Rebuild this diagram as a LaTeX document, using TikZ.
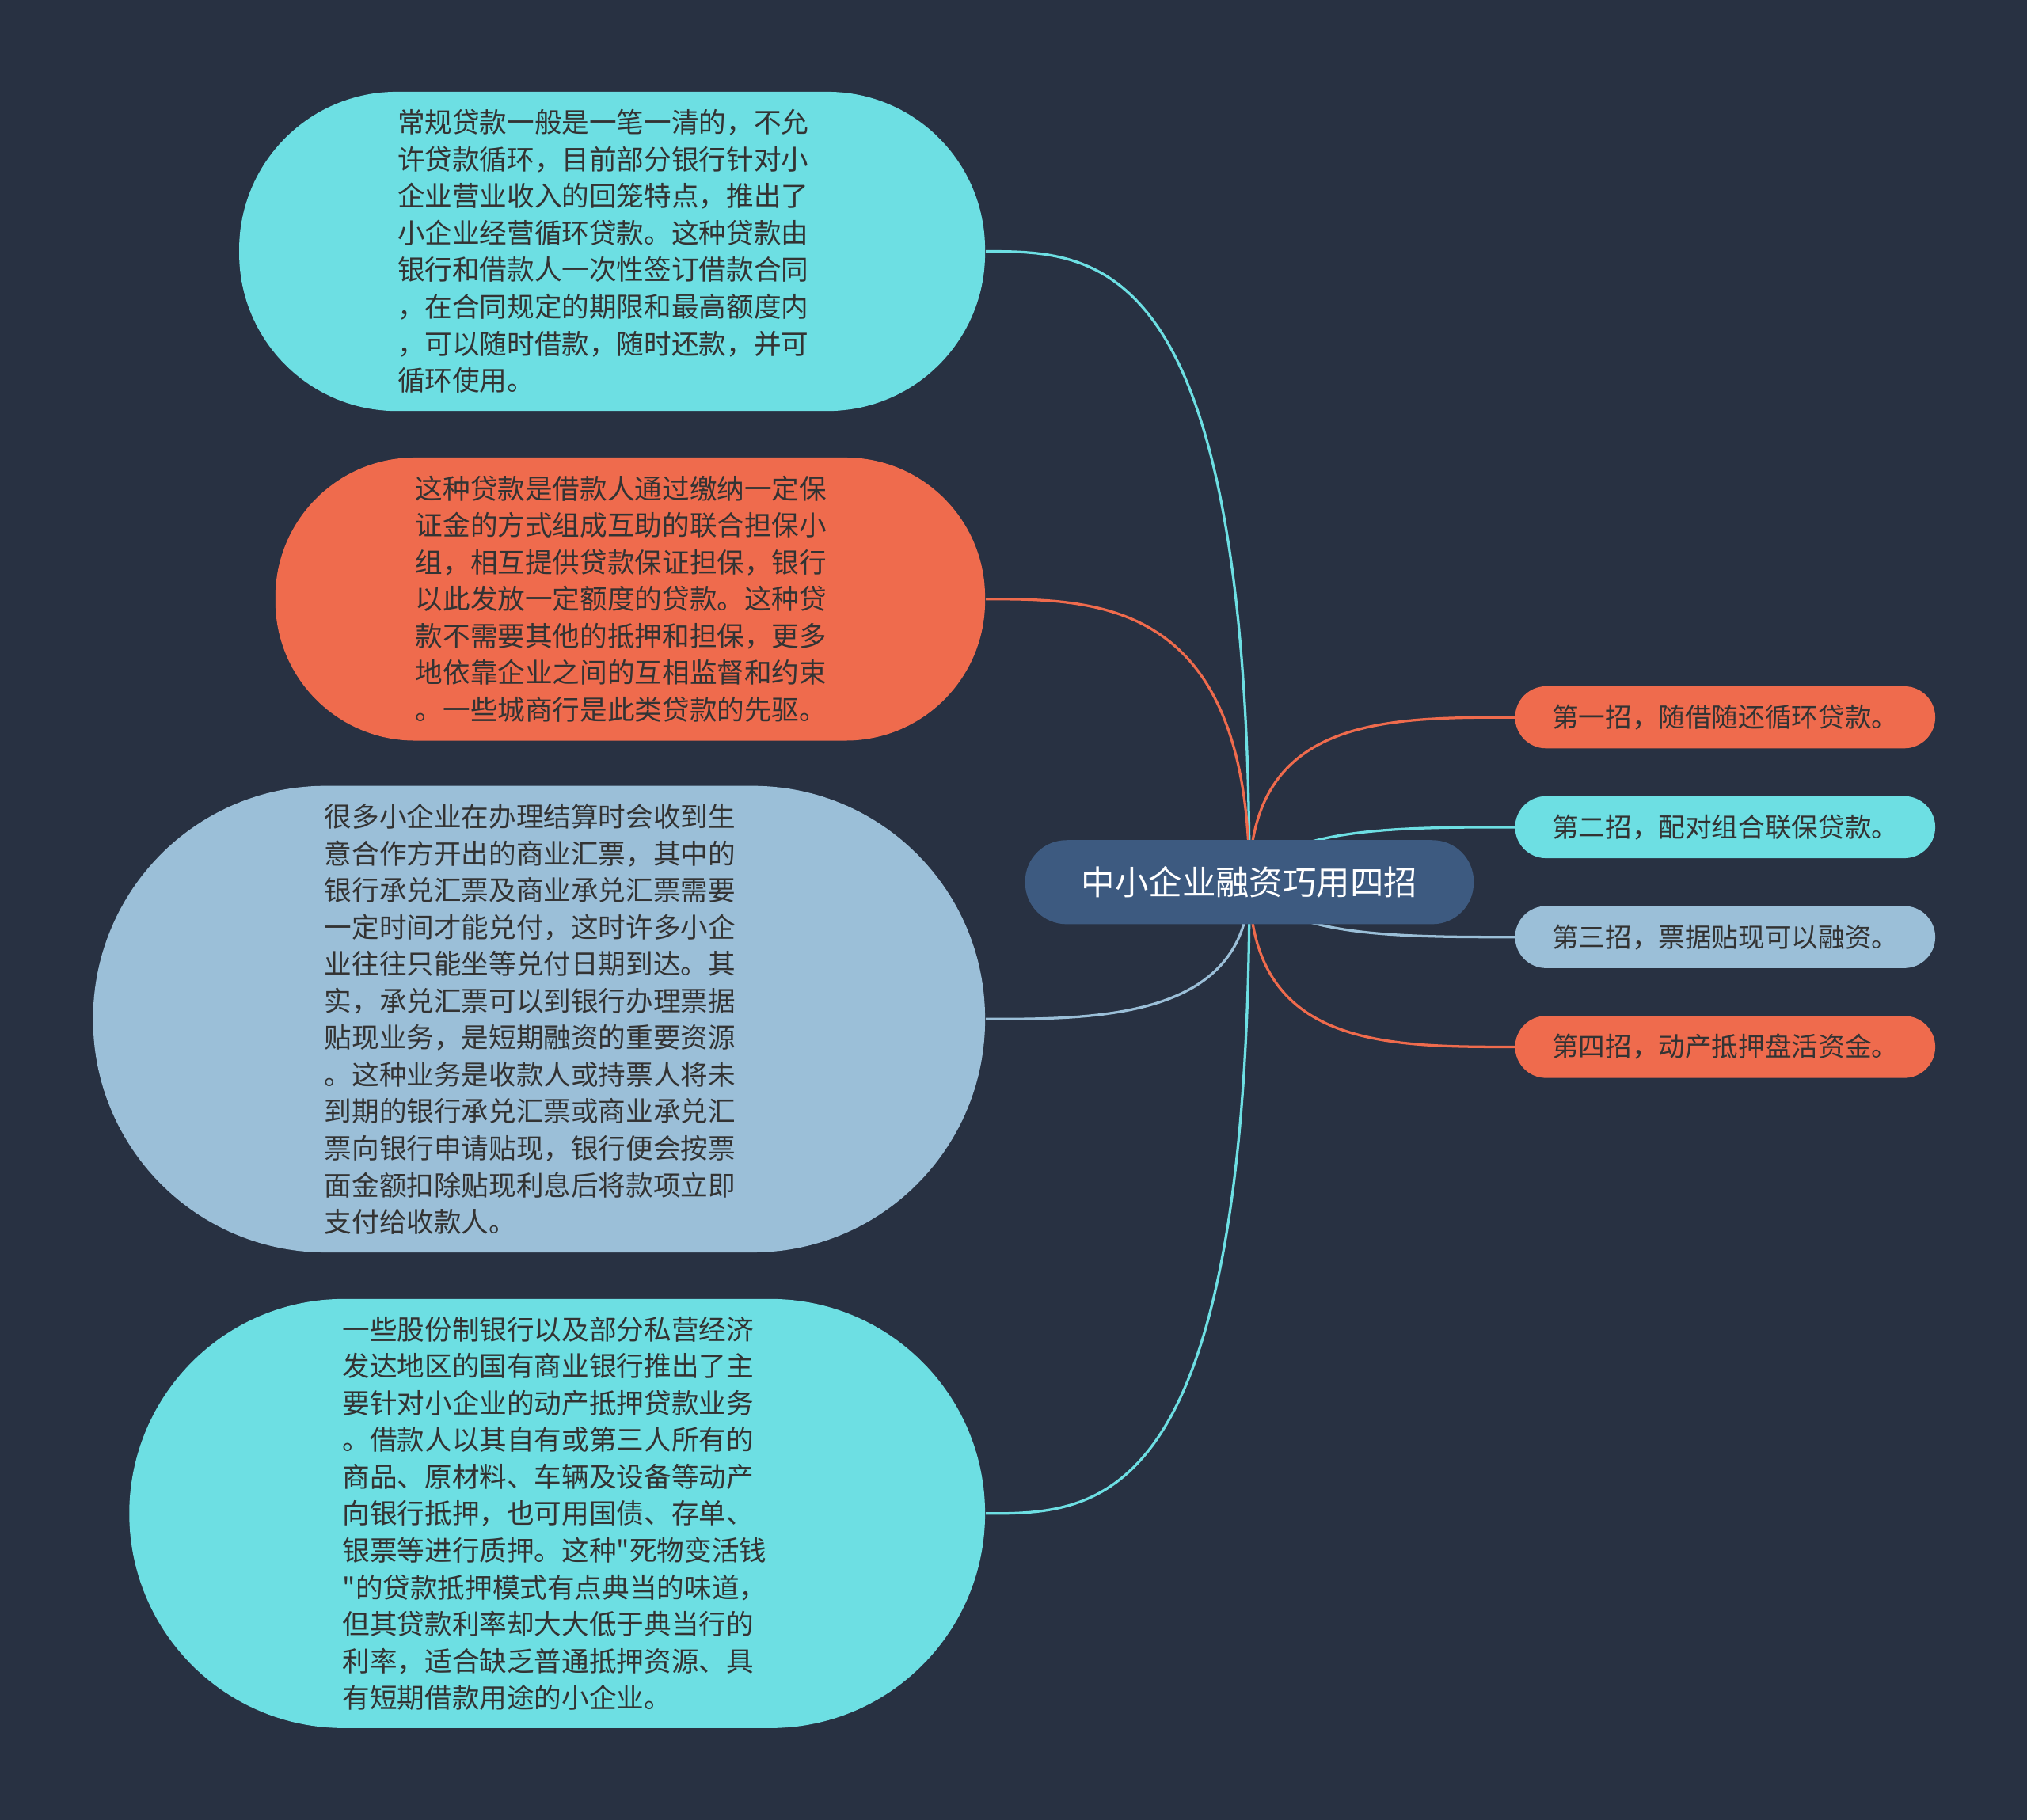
\documentclass[tikz,border=0pt]{standalone}
\usepackage{fontspec}
\setmainfont{Noto Sans CJK SC}[Ligatures=TeXOff]
\usetikzlibrary{backgrounds}
\definecolor{bg}{HTML}{283142}
\definecolor{cy}{HTML}{6DDFE3}
\definecolor{rd}{HTML}{EF6B4D}
\definecolor{lb}{HTML}{9BBFD8}
\definecolor{cb}{HTML}{3D5A80}
\definecolor{tx}{HTML}{333333}
\begin{document}
\begin{tikzpicture}[x=0.5pt,y=-0.5pt,
  leaf/.style={inner sep=0pt,text=tx,font=\fontsize{10.6pt}{14.25pt}\selectfont,align=left,text width=160pt},
  small/.style={inner sep=0pt,minimum width=162.5pt,minimum height=24pt,rounded corners=12pt,text=tx,font=\fontsize{10.3pt}{12pt}\selectfont},
  conn/.style={line width=1pt}]
\useasboundingbox (0,0) rectangle (1568,1408);
\node[leaf,fill=cy,minimum width=288.5pt,minimum height=123.5pt,rounded corners=61pt] (n1) at (473.5,194.5) {\hspace*{-3pt}\parbox{160pt}{常规贷款一般是一笔一清的，不允\\许贷款循环，目前部分银行针对小\\企业营业收入的回笼特点，推出了\\小企业经营循环贷款。这种贷款由\\银行和借款人一次性签订借款合同\\，在合同规定的期限和最高额度内\\，可以随时借款，随时还款，并可\\循环使用。}};
\node[leaf,fill=rd,minimum width=274.5pt,minimum height=109.5pt,rounded corners=54pt] (n2) at (487.5,463.5) {\hspace*{-3pt}\parbox{160pt}{这种贷款是借款人通过缴纳一定保\\证金的方式组成互助的联合担保小\\组，相互提供贷款保证担保，银行\\以此发放一定额度的贷款。这种贷\\款不需要其他的抵押和担保，更多\\地依靠企业之间的互相监督和约束\\。一些城商行是此类贷款的先驱。}};
\node[leaf,fill=lb,minimum width=345pt,minimum height=180.5pt,rounded corners=90pt] (n3) at (417,788.5) {\hspace*{-3pt}\parbox{160pt}{很多小企业在办理结算时会收到生\\意合作方开出的商业汇票，其中的\\银行承兑汇票及商业承兑汇票需要\\一定时间才能兑付，这时许多小企\\业往往只能坐等兑付日期到达。其\\实，承兑汇票可以到银行办理票据\\贴现业务，是短期融资的重要资源\\。这种业务是收款人或持票人将未\\到期的银行承兑汇票或商业承兑汇\\票向银行申请贴现，银行便会按票\\面金额扣除贴现利息后将款项立即\\支付给收款人。}};
\node[leaf,fill=cy,minimum width=331pt,minimum height=166pt,rounded corners=83pt] (n4) at (431,1171) {\hspace*{-3pt}\parbox{160pt}{一些股份制银行以及部分私营经济\\发达地区的国有商业银行推出了主\\要针对小企业的动产抵押贷款业务\\。借款人以其自有或第三人所有的\\商品、原材料、车辆及设备等动产\\向银行抵押，也可用国债、存单、\\银票等进行质押。这种"死物变活钱\\"的贷款抵押模式有点典当的味道，\\但其贷款利率却大大低于典当行的\\利率，适合缺乏普通抵押资源、具\\有短期借款用途的小企业。}};
\node[fill=cb,inner sep=0pt,minimum width=173.5pt,minimum height=32.5pt,rounded corners=16pt,text=white,font=\fontsize{13pt}{15pt}\selectfont] (c) at (966.5,682.5) {中小企业融资巧用四招};
\node[small,fill=rd] (r1) at (1334.5,555) {第一招，随借随还循环贷款。};
\node[small,fill=cy] (r2) at (1334.5,640) {第二招，配对组合联保贷款。};
\node[small,fill=lb] (r3) at (1334.5,725) {第三招，票据贴现可以融资。};
\node[small,fill=rd] (r4) at (1334.5,810) {第四招，动产抵押盘活资金。};
\begin{pgfonlayer}{background}
\fill[bg] (0,0) rectangle (1568,1408);
\draw[conn,cy] (c.center) .. controls (c.center |- n1.east) and (850,194.5) .. (n1.east);
\draw[conn,rd] (c.center) .. controls (c.center |- n2.east) and (850,463.5) .. (n2.east);
\draw[conn,lb] (c.center) .. controls (c.center |- n3.east) and (850,788.5) .. (n3.east);
\draw[conn,cy] (c.center) .. controls (c.center |- n4.east) and (850,1171) .. (n4.east);
\draw[conn,rd] (c.center) .. controls (966.5,555) and (1070,555) .. (r1.west);
\draw[conn,cy] (c.center) .. controls (990,640) and (1080,640) .. (r2.west);
\draw[conn,lb] (c.center) .. controls (990,725) and (1080,725) .. (r3.west);
\draw[conn,rd] (c.center) .. controls (966.5,810) and (1070,810) .. (r4.west);
\end{pgfonlayer}
\end{tikzpicture}
\end{document}
